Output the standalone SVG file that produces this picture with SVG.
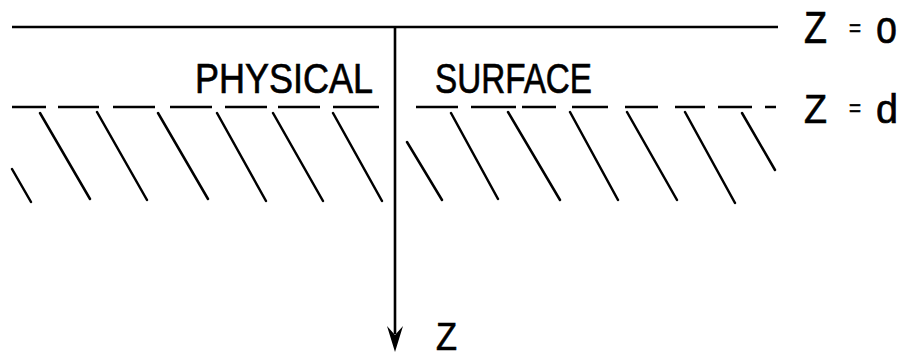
<svg xmlns="http://www.w3.org/2000/svg" width="910" height="358" viewBox="0 0 910 358">
  <style>
    .ln { stroke: #000; stroke-width: 2.6; fill: none; stroke-linecap: butt; }
    .h { stroke: #000; stroke-width: 2.5; fill: none; stroke-linecap: round; }
    .t { font-family: "Liberation Sans", "DejaVu Sans", sans-serif; fill: #000; stroke: #000; stroke-width: 0.7; }
  </style>
  <rect width="910" height="358" fill="#fff"/>
  <g id="surface-z0">
    <line class="ln" x1="12" y1="27" x2="778" y2="27"/>
  </g>
  <g id="surface-zd">
    <path class="ln" d="M12,107H46 M58,107H99 M113,107H155 M170,107H212 M225,107H267 M278,107H320 M333,107H379 M416,107H458 M471,107H516 M522,107H556 M572,107H608 M625,107H658 M675,107H705 M718,107H752 M765,107H776"/>
  </g>
  <g id="hatching">
    <path class="h" d="M12,169L31,202 M40,113L90,199 M97,112L147,200 M158,113L208,199 M217,113L266,201 M273,113L323,201 M333,113L382,201 M407,142L442,200 M451,113L498,199 M508,112L560,200 M570,112L618,200 M627,112L677,200 M685,112L735,203 M742,113L775,170"/>
  </g>
  <g id="connectors">
    <line class="ln" x1="395" y1="27" x2="395" y2="334"/>
    <path d="M387,326 L395,352 L403,326 L395,335 Z" fill="#000"/>
  </g>
  <g id="label-physical">
    <text class="t" x="195" y="93" font-size="43" textLength="178" lengthAdjust="spacingAndGlyphs">PHYSICAL</text>
  </g>
  <g id="label-surface">
    <text class="t" x="435" y="93" font-size="43" textLength="157" lengthAdjust="spacingAndGlyphs">SURFACE</text>
  </g>
  <g id="label-z0">
    <text class="t" y="43" font-size="44"><tspan x="804" textLength="23" lengthAdjust="spacingAndGlyphs">Z</tspan><tspan x="849" font-size="24" y="36" textLength="12" lengthAdjust="spacingAndGlyphs">=</tspan><tspan x="876" y="43" font-size="46" textLength="21" lengthAdjust="spacingAndGlyphs">o</tspan></text>
  </g>
  <g id="label-zd">
    <text class="t" y="123" font-size="41"><tspan x="804" textLength="23" lengthAdjust="spacingAndGlyphs">Z</tspan><tspan x="849" font-size="24" y="116" textLength="12" lengthAdjust="spacingAndGlyphs">=</tspan><tspan x="876" y="123" textLength="22" lengthAdjust="spacingAndGlyphs">d</tspan></text>
  </g>
  <g id="label-z-axis">
    <text class="t" x="436" y="350" font-size="39" textLength="21" lengthAdjust="spacingAndGlyphs">Z</text>
  </g>
</svg>
